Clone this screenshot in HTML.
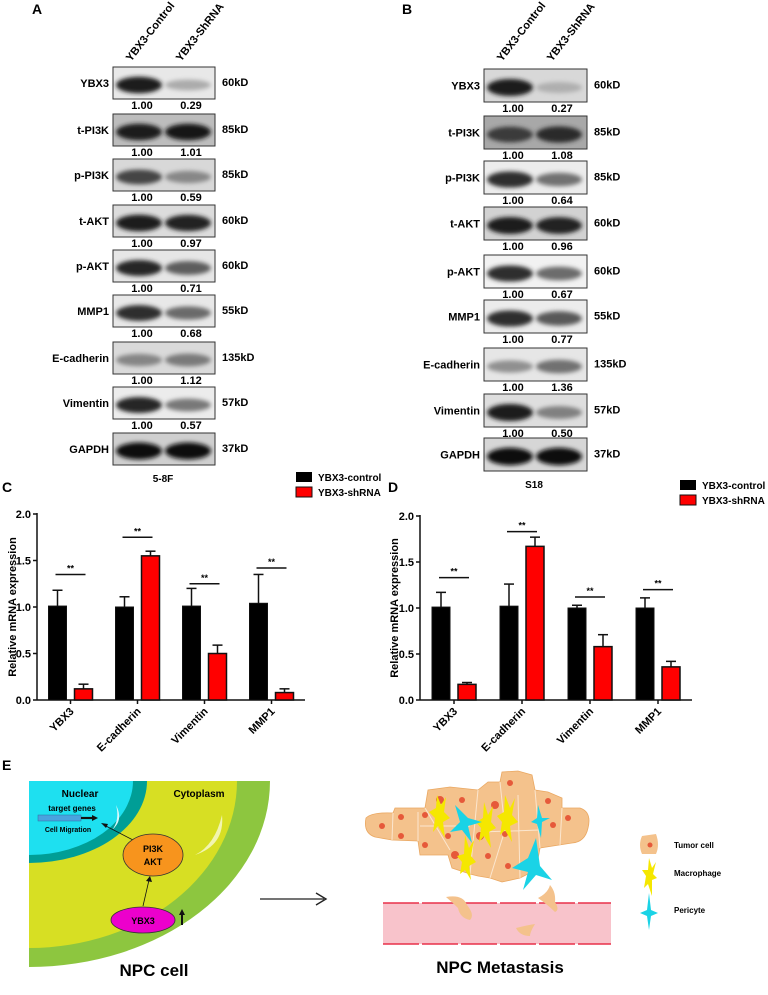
<!DOCTYPE html>
<html><head><meta charset="utf-8">
<style>
html,body{margin:0;padding:0;background:#fff;}
body{width:768px;height:990px;overflow:hidden;font-family:"Liberation Sans",Arial,sans-serif;}
svg text{font-family:"Liberation Sans",Arial,sans-serif;font-weight:bold;}
</style></head>
<body>
<svg id="fig" width="768" height="990" viewBox="0 0 768 990" xmlns="http://www.w3.org/2000/svg">
<defs>
<filter id="blur" x="-30%" y="-80%" width="160%" height="260%"><feGaussianBlur stdDeviation="2.2"/></filter>
</defs>
<g id="panelA"></g>
<g id="panelB"></g>
<g id="panelC"></g>
<g id="panelD"></g>
<g id="panelE">
  <text x="2" y="770" font-size="14">E</text>
  <g>
    <clipPath id="cellclip"><rect x="29" y="781" width="241" height="190"/></clipPath>
    <g clip-path="url(#cellclip)">
      <ellipse cx="29" cy="781" rx="241" ry="186" fill="#8dc63f"/>
      <ellipse cx="29" cy="781" rx="208" ry="167" fill="#d7df23"/>
      <ellipse cx="29" cy="781" rx="118" ry="82" fill="#009e96"/>
      <ellipse cx="29" cy="781" rx="104" ry="74" fill="#1ee0f0"/>
      <path d="M195 855 Q215 845 222 815 Q225 845 195 855Z" fill="#f2f5b0"/>
      <path d="M112 830 Q120 820 116 805 Q124 820 112 830Z" fill="#d8f8fb"/>
    </g>
    <text x="80" y="797" font-size="10" text-anchor="middle">Nuclear</text>
    <text x="199" y="797" font-size="10" text-anchor="middle">Cytoplasm</text>
    <text x="72" y="811" font-size="8" text-anchor="middle">target genes</text>
    <rect x="38" y="815" width="43" height="6" fill="#4aa3df" stroke="#2a6fa0" stroke-width="0.5"/>
    <path d="M81 818 L92 818" stroke="#111" stroke-width="2.2"/>
    <polygon points="92,815 98,818 92,821" fill="#111"/>
    <text x="68" y="832" font-size="7" text-anchor="middle">Cell Migration</text>
    <line x1="133" y1="840" x2="104" y2="825" stroke="#111" stroke-width="0.8"/>
    <polygon points="101,823 108,824 106,828" fill="#111"/>
    <ellipse cx="153" cy="855" rx="30" ry="21" fill="#f7941d" stroke="#333" stroke-width="0.8"/>
    <text x="153" y="852" font-size="9" text-anchor="middle">PI3K</text>
    <text x="153" y="865" font-size="9" text-anchor="middle">AKT</text>
    <line x1="143" y1="906" x2="149" y2="880" stroke="#111" stroke-width="0.8"/>
    <polygon points="146,881 150,876 152,882" fill="#111"/>
    <ellipse cx="143" cy="920" rx="32" ry="13" fill="#ec00cc" stroke="#333" stroke-width="0.8"/>
    <text x="143" y="924" font-size="9" text-anchor="middle">YBX3</text>
    <line x1="182" y1="925" x2="182" y2="914" stroke="#111" stroke-width="2"/>
    <polygon points="179,915 182,909 185,915" fill="#111"/>
    <text x="154" y="976" font-size="17" text-anchor="middle">NPC cell</text>
  </g>
  <line x1="260" y1="899" x2="324" y2="899" stroke="#222" stroke-width="1.2"/>
  <polyline points="316,893 326,899 316,905" fill="none" stroke="#222" stroke-width="1.4"/>
  <g>
    <path d="M366 818 Q372 812 393 813 L395 808 L425 808 L428 790 L450 787 L478 790 L488 782 L500 782 L502 772 L518 771 L532 775 L535 790 L548 792 L562 798 L562 808 L580 808 Q592 812 588 828 Q585 842 572 843 L540 848 L536 870 L520 878 L502 882 L490 878 L478 876 L470 874 L452 868 L448 855 L420 855 L418 841 L392 840 L375 837 Q363 833 366 818Z" fill="#f4c28c" stroke="#eaa862" stroke-width="0.8"/>
    <g stroke="#fbe6cf" stroke-width="1" fill="none">
      <path d="M393 813 L392 840 M418 812 L418 841 M425 808 L450 850 M478 790 L470 874 M500 782 L505 830 L490 878 M518 795 L520 878 M535 790 L540 848 M562 808 L560 845 M420 826 L470 826 M480 832 L540 830"/>
    </g>
    <g fill="#e6593a">
      <circle cx="382" cy="826" r="3"/><circle cx="401" cy="817" r="3"/><circle cx="401" cy="836" r="3"/><circle cx="425" cy="815" r="3"/><circle cx="425" cy="845" r="3"/><circle cx="440" cy="800" r="4"/><circle cx="462" cy="800" r="3"/><circle cx="510" cy="783" r="3"/><circle cx="548" cy="801" r="3"/><circle cx="568" cy="818" r="3"/><circle cx="553" cy="825" r="3"/><circle cx="495" cy="805" r="4"/><circle cx="448" cy="836" r="3"/><circle cx="480" cy="836" r="4"/><circle cx="505" cy="834" r="3"/><circle cx="455" cy="855" r="4"/><circle cx="508" cy="866" r="3"/><circle cx="488" cy="856" r="3"/>
    </g>
    <g fill="#f5e700">
      <polygon points="437,795 441,805 446,797 444,812 450,818 443,822 445,838 438,826 433,832 435,818 429,812 436,808"/>
      <polygon points="484,802 488,815 493,806 491,822 496,828 489,832 491,848 484,836 479,842 481,828 476,822 483,818"/>
      <polygon points="505,795 510,808 515,798 512,815 518,822 510,826 512,842 505,830 500,835 502,822 497,816 504,812"/>
      <polygon points="465,835 469,848 474,840 471,856 476,862 469,866 471,880 465,870 460,874 462,862 457,856 464,854"/>
    </g>
    <g fill="#1ad3e6">
      <polygon points="455,805 468,818 482,822 468,826 472,843 462,830 450,832 460,822"/>
      <polygon points="538,805 542,818 550,818 542,822 541,838 537,824 531,822 537,818"/>
      <polygon points="536,838 528,858 512,868 528,872 523,890 536,875 552,880 540,866"/>
    </g>
  </g>
  <g>
    <rect x="383" y="903" width="228" height="41" fill="#f8c3cb"/>
    <line x1="383" y1="903" x2="611" y2="903" stroke="#e8314a" stroke-width="1.5" stroke-dasharray="36,3"/>
    <line x1="383" y1="944" x2="611" y2="944" stroke="#e8314a" stroke-width="1.5" stroke-dasharray="36,3"/>
    <path d="M446 897 Q463 894 467 905 Q475 915 470 920 Q460 918 458 908 Q452 902 446 897Z" fill="#f4c28c"/>
    <path d="M538 898 Q548 893 550 885 Q556 892 555 902 Q560 910 555 912 Q548 905 538 898Z" fill="#f4c28c"/>
    <path d="M516 928 Q528 925 535 924 Q530 932 530 936 Q520 936 516 928Z" fill="#f4c28c"/>
  </g>
  <g>
    <path d="M642 836 L656 834 Q660 845 656 854 L642 854 Q638 845 642 836Z" fill="#f4c28c"/>
    <circle cx="650" cy="845" r="2.5" fill="#e6593a"/>
    <text x="674" y="848" font-size="8" font-weight="normal">Tumor cell</text>
    <polygon points="649,858 652,868 656,862 653,874 657,878 652,880 652,896 648,884 644,888 646,876 642,870 648,870" fill="#f5e700"/>
    <text x="674" y="876" font-size="8" font-weight="normal">Macrophage</text>
    <polygon points="649,893 651,910 658,913 651,916 649,930 647,916 640,913 647,910" fill="#1ad3e6"/>
    <text x="674" y="913" font-size="8" font-weight="normal">Pericyte</text>
  </g>
  <text x="500" y="973" font-size="17" text-anchor="middle">NPC Metastasis</text>
</g>
</svg>
<script>
const NS='http://www.w3.org/2000/svg';
function mk(parent,tag,attrs,txt){const e=document.createElementNS(NS,tag);for(const k in attrs)e.setAttribute(k,attrs[k]);if(txt!==undefined)e.textContent=txt;parent.appendChild(e);return e;}

// ---------- Western blot data ----------
const blotProteins=['YBX3','t-PI3K','p-PI3K','t-AKT','p-AKT','MMP1','E-cadherin','Vimentin','GAPDH'];
const blotKD=['60kD','85kD','85kD','60kD','60kD','55kD','135kD','57kD','37kD'];
const ratiosA=[0.29,1.01,0.59,0.97,0.71,0.68,1.12,0.57];
const ratiosB=[0.27,1.08,0.64,0.96,0.67,0.77,1.36,0.50];
const ctrlDarkA=[0.95,0.95,0.75,0.95,0.9,0.85,0.45,0.9,1.0];
const ctrlDarkB=[0.95,0.8,0.85,0.95,0.85,0.85,0.4,0.95,1.0];

function drawBlot(g,cfg,ratios,dark){
  mk(g,'text',{x:cfg.lx-18,y:14,'font-size':14},cfg.letter);
  const h1=mk(g,'text',{x:cfg.bx+18,y:62,'font-size':11,transform:`rotate(-52 ${cfg.bx+18} 62)`},'YBX3-Control');
  
  
  const h2=mk(g,'text',{x:cfg.bx+68,y:62,'font-size':11,transform:`rotate(-52 ${cfg.bx+68} 62)`},'YBX3-ShRNA');
  
  
  blotProteins.forEach((p,i)=>{
    const top=cfg.tops[i],h=cfg.h;
    const row=mk(g,'g',{});
    
    
    mk(row,'rect',{x:cfg.bx,y:top,width:cfg.bw,height:h,fill:cfg.bg[i],stroke:'#333','stroke-width':1});
    const r= i<ratios.length? ratios[i]:1;
    const d1=dark[i];
    const d2=Math.min(1,d1*r);
    const cy=top+h/2+2;
    [[cfg.bx+26,d1],[cfg.bx+75,d2]].forEach(([cx,d])=>{
      const l=Math.round(230-215*d);
      mk(row,'ellipse',{cx:cx,cy:cy,rx:23,ry:Math.max(3,h*0.22*(0.6+0.6*d)),fill:`rgb(${l},${l},${l})`,filter:'url(#blur)'});
    });
    mk(row,'text',{x:cfg.bx-4,y:top+h/2+4,'font-size':11,'text-anchor':'end'},p);
    mk(row,'text',{x:cfg.bx+cfg.bw+7,y:top+h/2+3,'font-size':11},blotKD[i]);
    if(i<ratios.length){
      mk(row,'text',{x:cfg.bx+29,y:top+h+10,'font-size':11,'text-anchor':'middle'},'1.00');
      mk(row,'text',{x:cfg.bx+78,y:top+h+10,'font-size':11,'text-anchor':'middle'},ratios[i].toFixed(2));
    }
  });
  const cl=mk(g,'text',{x:cfg.bx+50,y:cfg.cellY,'font-size':10,'text-anchor':'middle'},cfg.cell);
  
  
}
drawBlot(document.getElementById('panelA'),{letter:'A',lx:50,bx:113,bw:102,h:32,tops:[67,114,159,205,250,295,342,387,433],cellY:482,cell:'5-8F',
  bg:['#e8e8e8','#bdbdbd','#d8d8d8','#dcdcdc','#e6e6e6','#e8e8e8','#dadada','#ececec','#cfcfcf']},ratiosA,ctrlDarkA);
drawBlot(document.getElementById('panelB'),{letter:'B',lx:420,bx:484,bw:103,h:33,tops:[69,116,161,207,255,300,348,394,438],cellY:488,cell:'S18',
  bg:['#d8d8d8','#a8a8a8','#ececec','#d2d2d2','#f2f2f2','#ececec','#e6e6e6','#dedede','#d6d6d6']},ratiosB,ctrlDarkB);

// ---------- Bar chart data ----------
const categories=['YBX3','E-cadherin','Vimentin','MMP1'];
const yTicks=[0.0,0.5,1.0,1.5,2.0];
const cControl=[1.01,1.00,1.01,1.04];
const cControlErr=[0.17,0.11,0.19,0.31];
const cShrna=[0.12,1.55,0.50,0.08];
const cShrnaErr=[0.05,0.05,0.09,0.04];
const cSig=[1.35,1.75,1.25,1.42];
const dControl=[1.01,1.02,1.00,1.00];
const dControlErr=[0.16,0.24,0.03,0.11];
const dShrna=[0.17,1.67,0.58,0.36];
const dShrnaErr=[0.02,0.10,0.13,0.06];
const dSig=[1.33,1.83,1.12,1.20];

function drawChart(g,cfg,ctrl,ctrlErr,sh,shErr,sig){
  const x0=cfg.x0,x1=cfg.x1,yb=cfg.yb,pxPer=cfg.pxPer;
  const Y=v=>yb-v*pxPer;
  const groupW=(x1-x0)/categories.length;
  const X=i=>x0+groupW*i+groupW/2;
  mk(g,'text',{x:cfg.letterX,y:cfg.letterY,'font-size':14},cfg.letter);
  const yl=mk(g,'text',{x:cfg.ylabX,y:Y(1.0),'font-size':11,'text-anchor':'middle',transform:`rotate(-90 ${cfg.ylabX} ${Y(1.0)})`},'Relative mRNA expression');
  
  
  const ax=mk(g,'g',{stroke:'#111','stroke-width':1.5});
  
  
  mk(ax,'line',{x1:x0,y1:Y(2.0)-1,x2:x0,y2:yb});
  mk(ax,'line',{x1:x0,y1:yb,x2:x1,y2:yb});
  yTicks.forEach(t=>{
    mk(ax,'line',{x1:x0-4,y1:Y(t),x2:x0,y2:Y(t)});
    const tl=mk(g,'text',{x:x0-6,y:Y(t)+4,'font-size':11,'text-anchor':'end'},t.toFixed(1));
    
    
  });
  categories.forEach((c,i)=>{
    mk(ax,'line',{x1:X(i),y1:yb,x2:X(i),y2:yb+4});
    const bw=18,gap=8;
    const bx1=X(i)-gap/2-bw, bx2=X(i)+gap/2;
    const b1=mk(g,'rect',{x:bx1,y:Y(ctrl[i]),width:bw,height:ctrl[i]*pxPer,fill:'#000',stroke:'#111','stroke-width':1});
    
    
    const b2=mk(g,'rect',{x:bx2,y:Y(sh[i]),width:bw,height:sh[i]*pxPer,fill:'#ff0000',stroke:'#111','stroke-width':1.5});
    
    
    [[bx1+bw/2,ctrl[i],ctrlErr[i]],[bx2+bw/2,sh[i],shErr[i]]].forEach(([cx,v,e])=>{
      const eb=mk(g,'g',{stroke:'#111','stroke-width':1.5});
      
      
      mk(eb,'line',{x1:cx,y1:Y(v),x2:cx,y2:Y(v+e)});
      mk(eb,'line',{x1:cx-5,y1:Y(v+e),x2:cx+5,y2:Y(v+e)});
    });
    const sl=mk(g,'line',{x1:bx1+7,y1:Y(sig[i]),x2:bx2+bw-7,y2:Y(sig[i]),stroke:'#111','stroke-width':1.5});
    
    
    mk(g,'text',{x:X(i),y:Y(sig[i])-3,'font-size':9,'text-anchor':'middle'},'**');
    const lx=X(i)+4,ly=yb+12;
    const cl=mk(g,'text',{x:lx,y:ly,'font-size':11,'text-anchor':'end',transform:`rotate(-45 ${lx} ${ly})`},c);
    
    
  });
  const lg=mk(g,'g',{});
  
  
  mk(lg,'rect',{x:cfg.legX,y:cfg.legY,width:16,height:10,fill:'#000'});
  mk(lg,'text',{x:cfg.legX+22,y:cfg.legY+9,'font-size':10},'YBX3-control');
  mk(lg,'rect',{x:cfg.legX,y:cfg.legY+15,width:16,height:10,fill:'#ff0000',stroke:'#111','stroke-width':1});
  mk(lg,'text',{x:cfg.legX+22,y:cfg.legY+24,'font-size':10},'YBX3-shRNA');
}
drawChart(document.getElementById('panelC'),{letter:'C',letterX:2,letterY:492,x0:37,x1:305,yb:700,pxPer:93,ylabX:16,legX:296,legY:472},cControl,cControlErr,cShrna,cShrnaErr,cSig);
drawChart(document.getElementById('panelD'),{letter:'D',letterX:388,letterY:492,x0:420,x1:692,yb:700,pxPer:92,ylabX:398,legX:680,legY:480},dControl,dControlErr,dShrna,dShrnaErr,dSig);
</script>
</body></html>
